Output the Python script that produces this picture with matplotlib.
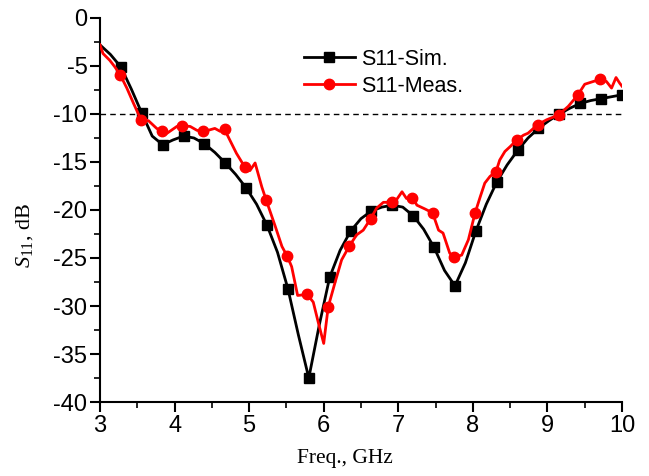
import numpy as np
import matplotlib
matplotlib.use("Agg")
import matplotlib.pyplot as plt
from matplotlib.ticker import MultipleLocator

plt.rcParams['mathtext.fontset'] = 'custom'
plt.rcParams['mathtext.rm'] = 'Liberation Serif'
plt.rcParams['mathtext.it'] = 'Liberation Serif:italic'
plt.rcParams['axes.unicode_minus'] = False

# Simulated S11 (smooth curve), markers every other point
sim_f = [3.00, 3.14, 3.28, 3.42, 3.56, 3.70, 3.84, 3.98, 4.12, 4.26, 4.40, 4.54, 4.68,
         4.82, 4.96, 5.10, 5.24, 5.38, 5.52, 5.66, 5.80, 5.94, 6.08, 6.22, 6.36, 6.50,
         6.64, 6.78, 6.92, 7.06, 7.20, 7.34, 7.48, 7.62, 7.76, 7.90, 8.04, 8.18, 8.32,
         8.46, 8.60, 8.74, 8.88, 9.02, 9.16, 9.30, 9.44, 9.58, 9.72, 9.86, 10.00]
sim_db = [-2.8, -3.8, -5.1, -7.4, -9.9, -12.3, -13.2, -12.7, -12.3, -12.5, -13.1, -14.0, -15.1,
          -16.3, -17.7, -19.4, -21.6, -24.4, -28.2, -33.0, -37.5, -32.0, -27.0, -24.2, -22.2, -20.9,
          -20.1, -19.7, -19.5, -19.7, -20.6, -22.0, -23.9, -26.3, -27.9, -25.5, -22.2, -19.4, -17.1,
          -15.3, -13.8, -12.5, -11.5, -10.7, -10.0, -9.4, -8.9, -8.6, -8.4, -8.2, -8.0]

# Measured S11
meas_f = [3.00, 3.04, 3.13, 3.20, 3.27, 3.36, 3.45, 3.55, 3.65, 3.76, 3.83, 3.90, 4.03, 4.10,
          4.21, 4.30, 4.38, 4.45, 4.54, 4.61, 4.67, 4.74, 4.83, 4.94, 5.01, 5.08, 5.17, 5.23,
          5.35, 5.44, 5.51, 5.57, 5.65, 5.78, 5.86, 5.93, 6.00, 6.06, 6.15, 6.24, 6.34, 6.44,
          6.53, 6.63, 6.71, 6.80, 6.91, 6.97, 7.05, 7.11, 7.19, 7.25, 7.36, 7.46, 7.54, 7.60,
          7.69, 7.75, 7.85, 7.94, 8.03, 8.10, 8.16, 8.23, 8.31, 8.36, 8.43, 8.50, 8.59, 8.68,
          8.74, 8.87, 8.99, 9.15, 9.28, 9.41, 9.50, 9.62, 9.71, 9.79, 9.86, 9.92, 9.97, 10.00]
meas_db = [-2.8, -3.7, -4.4, -5.1, -5.9, -7.3, -8.9, -10.6, -10.7, -11.5, -11.8, -12.0, -11.3, -11.2,
           -11.3, -11.7, -11.8, -11.7, -11.5, -11.8, -11.6, -12.7, -14.1, -15.5, -15.9, -15.1, -17.6, -19.0,
           -21.7, -23.8, -24.8, -25.9, -28.9, -28.8, -29.6, -31.8, -33.9, -30.1, -27.6, -25.2, -23.8, -22.6,
           -22.1, -20.9, -19.8, -19.2, -19.2, -19.0, -18.1, -18.8, -18.7, -19.5, -19.9, -20.3, -22.1, -22.4,
           -24.5, -24.9, -24.7, -23.1, -20.3, -18.6, -17.2, -16.5, -16.0, -14.8, -13.9, -13.4, -12.7, -12.2,
           -12.0, -11.1, -10.6, -10.1, -9.2, -8.0, -6.9, -6.6, -6.4, -6.6, -7.3, -6.2, -6.8, -7.1]
meas_marker_f = [3.27, 3.55, 3.83, 4.10, 4.38, 4.67, 4.94, 5.23, 5.51, 5.78, 6.06, 6.34, 6.63,
                 6.91, 7.19, 7.46, 7.75, 8.03, 8.31, 8.59, 8.87, 9.15, 9.41, 9.71]

x_ticks = [3, 4, 5, 6, 7, 8, 9, 10]
y_ticks = [0, -5, -10, -15, -20, -25, -30, -35, -40]
threshold = -10

fig = plt.figure(figsize=(6.49, 4.76), dpi=100)
ax = fig.add_axes([100/649, 1-402/476, 522/649, 384/476])

ax.axhline(threshold, color='black', lw=1.0, ls=(0, (4, 3)), zorder=1)

sim_marks = list(range(2, len(sim_f), 2))
ax.plot(sim_f, sim_db, color='black', lw=2.0, marker='s', markersize=6.5,
        markevery=sim_marks, label='S11-Sim.', zorder=3)

meas_marks = [i for i, f in enumerate(meas_f) if f in meas_marker_f]
ax.plot(meas_f, meas_db, color='#ff0000', lw=2.0, marker='o', markersize=7.5,
        markevery=meas_marks, label='S11-Meas.', zorder=4)

ax.set_xlim(3, 10)
ax.set_ylim(-40, 0)
ax.set_xticks(x_ticks)
ax.set_yticks(y_ticks)
ax.xaxis.set_minor_locator(MultipleLocator(0.5))
ax.yaxis.set_minor_locator(MultipleLocator(2.5))

for s in ['top', 'right']:
    ax.spines[s].set_visible(False)
for s in ['left', 'bottom']:
    ax.spines[s].set_linewidth(1.5)

ax.tick_params(which='major', direction='out', length=7, width=1.5,
               labelsize=17, pad=2)
ax.tick_params(which='minor', direction='out', length=4, width=1.2)
for lab in ax.get_xticklabels() + ax.get_yticklabels():
    lab.set_fontfamily('Liberation Sans')

ax.set_xlabel('Freq., GHz', fontfamily='Liberation Serif', fontsize=15.5)
ax.xaxis.set_label_coords((345-100)/522, -(449-402)/384)
ax.set_ylabel(r'$\mathit{S}_{\mathrm{11}}$, dB', fontfamily='Liberation Serif',
              fontsize=16)
ax.yaxis.set_label_coords(-(100-35)/522, 0.5 - (235-210)/384)

leg = ax.legend(loc='upper left', bbox_to_anchor=(304/649, 1-49/476),
                bbox_transform=fig.transFigure, frameon=False,
                prop={'family': 'Liberation Sans', 'size': 15.5},
                handlelength=2.35, handletextpad=0.3, labelspacing=0.28,
                borderpad=0, borderaxespad=0)

fig.savefig('out.png', dpi=100)
